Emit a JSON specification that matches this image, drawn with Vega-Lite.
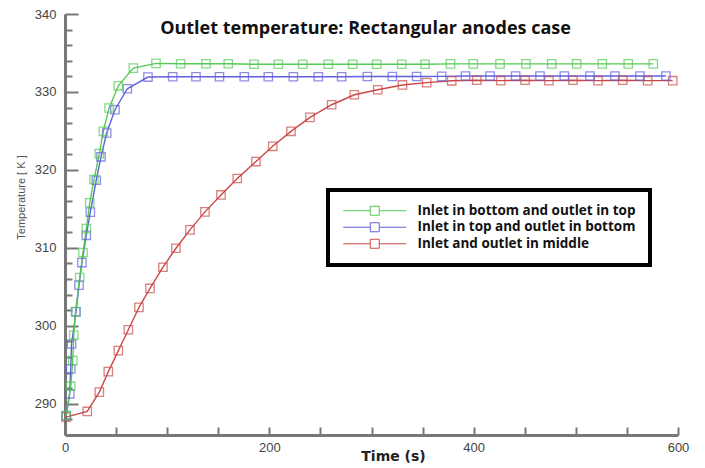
{
  "$schema": "https://vega.github.io/schema/vega-lite/v6.json",
  "autosize": "none",
  "width": 613,
  "height": 421,
  "padding": {"left": 65, "top": 14, "right": 27, "bottom": 33},
  "background": "white",
  "title": {"text": "Outlet temperature: Rectangular anodes case", "font": "Open Sans", "fontSize": 18, "fontWeight": "bold", "color": "#111", "anchor": "middle", "baseline": "alphabetic", "offset": -20, "dy": 24, "dx": -6},
  "data": {"values": [
    {"series": "Inlet and outlet in middle", "t": 1, "T": 288.3},
    {"series": "Inlet and outlet in middle", "t": 21.8, "T": 289.02},
    {"series": "Inlet and outlet in middle", "t": 33.6, "T": 291.5},
    {"series": "Inlet and outlet in middle", "t": 42.4, "T": 294.13},
    {"series": "Inlet and outlet in middle", "t": 52.2, "T": 296.82},
    {"series": "Inlet and outlet in middle", "t": 62.0, "T": 299.5},
    {"series": "Inlet and outlet in middle", "t": 72.4, "T": 302.37},
    {"series": "Inlet and outlet in middle", "t": 83.2, "T": 304.8},
    {"series": "Inlet and outlet in middle", "t": 95.9, "T": 307.52},
    {"series": "Inlet and outlet in middle", "t": 108.6, "T": 309.95},
    {"series": "Inlet and outlet in middle", "t": 122.3, "T": 312.31},
    {"series": "Inlet and outlet in middle", "t": 137.0, "T": 314.62},
    {"series": "Inlet and outlet in middle", "t": 152.7, "T": 316.79},
    {"series": "Inlet and outlet in middle", "t": 168.6, "T": 318.9},
    {"series": "Inlet and outlet in middle", "t": 186.9, "T": 321.07},
    {"series": "Inlet and outlet in middle", "t": 203.3, "T": 323.03},
    {"series": "Inlet and outlet in middle", "t": 221.2, "T": 324.95},
    {"series": "Inlet and outlet in middle", "t": 239.8, "T": 326.74},
    {"series": "Inlet and outlet in middle", "t": 261.0, "T": 328.36},
    {"series": "Inlet and outlet in middle", "t": 283.2, "T": 329.64},
    {"series": "Inlet and outlet in middle", "t": 306.1, "T": 330.28},
    {"series": "Inlet and outlet in middle", "t": 330.3, "T": 330.9},
    {"series": "Inlet and outlet in middle", "t": 354.0, "T": 331.2},
    {"series": "Inlet and outlet in middle", "t": 378.5, "T": 331.43},
    {"series": "Inlet and outlet in middle", "t": 403.0, "T": 331.5},
    {"series": "Inlet and outlet in middle", "t": 426.5, "T": 331.45},
    {"series": "Inlet and outlet in middle", "t": 450.3, "T": 331.5},
    {"series": "Inlet and outlet in middle", "t": 473.7, "T": 331.45},
    {"series": "Inlet and outlet in middle", "t": 497.2, "T": 331.5},
    {"series": "Inlet and outlet in middle", "t": 521.7, "T": 331.45},
    {"series": "Inlet and outlet in middle", "t": 545.9, "T": 331.5},
    {"series": "Inlet and outlet in middle", "t": 570.3, "T": 331.45},
    {"series": "Inlet and outlet in middle", "t": 594.8, "T": 331.45},
    {"series": "Inlet in top and outlet in bottom", "t": 1.3, "T": 288.5},
    {"series": "Inlet in top and outlet in bottom", "t": 4.6, "T": 291.28},
    {"series": "Inlet in top and outlet in bottom", "t": 5.6, "T": 294.48},
    {"series": "Inlet in top and outlet in bottom", "t": 6.4, "T": 297.67},
    {"series": "Inlet in top and outlet in bottom", "t": 10.8, "T": 301.8},
    {"series": "Inlet in top and outlet in bottom", "t": 13.7, "T": 305.22},
    {"series": "Inlet in top and outlet in bottom", "t": 16.6, "T": 308.12},
    {"series": "Inlet in top and outlet in bottom", "t": 20.8, "T": 311.61},
    {"series": "Inlet in top and outlet in bottom", "t": 24.8, "T": 314.59},
    {"series": "Inlet in top and outlet in bottom", "t": 30.6, "T": 318.68},
    {"series": "Inlet in top and outlet in bottom", "t": 35.2, "T": 321.68},
    {"series": "Inlet in top and outlet in bottom", "t": 40.8, "T": 324.74},
    {"series": "Inlet in top and outlet in bottom", "t": 48.9, "T": 327.72},
    {"series": "Inlet in top and outlet in bottom", "t": 61.0, "T": 330.41},
    {"series": "Inlet in top and outlet in bottom", "t": 81.2, "T": 331.91},
    {"series": "Inlet in top and outlet in bottom", "t": 105.4, "T": 331.95},
    {"series": "Inlet in top and outlet in bottom", "t": 128.2, "T": 331.95},
    {"series": "Inlet in top and outlet in bottom", "t": 151.2, "T": 331.95},
    {"series": "Inlet in top and outlet in bottom", "t": 175.5, "T": 331.95},
    {"series": "Inlet in top and outlet in bottom", "t": 199.0, "T": 331.95},
    {"series": "Inlet in top and outlet in bottom", "t": 223.5, "T": 331.95},
    {"series": "Inlet in top and outlet in bottom", "t": 247.9, "T": 331.95},
    {"series": "Inlet in top and outlet in bottom", "t": 270.8, "T": 331.95},
    {"series": "Inlet in top and outlet in bottom", "t": 295.9, "T": 331.98},
    {"series": "Inlet in top and outlet in bottom", "t": 320.4, "T": 331.98},
    {"series": "Inlet in top and outlet in bottom", "t": 344.2, "T": 331.98},
    {"series": "Inlet in top and outlet in bottom", "t": 368.7, "T": 332.0},
    {"series": "Inlet in top and outlet in bottom", "t": 392.0, "T": 332.05},
    {"series": "Inlet in top and outlet in bottom", "t": 416.0, "T": 332.05},
    {"series": "Inlet in top and outlet in bottom", "t": 441.1, "T": 332.05},
    {"series": "Inlet in top and outlet in bottom", "t": 464.9, "T": 332.05},
    {"series": "Inlet in top and outlet in bottom", "t": 488.7, "T": 332.05},
    {"series": "Inlet in top and outlet in bottom", "t": 513.9, "T": 332.05},
    {"series": "Inlet in top and outlet in bottom", "t": 538.3, "T": 332.05},
    {"series": "Inlet in top and outlet in bottom", "t": 562.8, "T": 332.05},
    {"series": "Inlet in top and outlet in bottom", "t": 588.2, "T": 332.05},
    {"series": "Inlet in bottom and outlet in top", "t": 1, "T": 288.47},
    {"series": "Inlet in bottom and outlet in top", "t": 5.6, "T": 292.26},
    {"series": "Inlet in bottom and outlet in top", "t": 7.6, "T": 295.54},
    {"series": "Inlet in bottom and outlet in top", "t": 8.6, "T": 298.82},
    {"series": "Inlet in bottom and outlet in top", "t": 10.3, "T": 301.83},
    {"series": "Inlet in bottom and outlet in top", "t": 14.4, "T": 306.2},
    {"series": "Inlet in bottom and outlet in top", "t": 17.6, "T": 309.4},
    {"series": "Inlet in bottom and outlet in top", "t": 20.9, "T": 312.47},
    {"series": "Inlet in bottom and outlet in top", "t": 24.2, "T": 315.79},
    {"series": "Inlet in bottom and outlet in top", "t": 28.4, "T": 318.77},
    {"series": "Inlet in bottom and outlet in top", "t": 33.6, "T": 322.1},
    {"series": "Inlet in bottom and outlet in top", "t": 37.5, "T": 324.95},
    {"series": "Inlet in bottom and outlet in top", "t": 43.1, "T": 327.94},
    {"series": "Inlet in bottom and outlet in top", "t": 52.2, "T": 330.79},
    {"series": "Inlet in bottom and outlet in top", "t": 66.9, "T": 333.06},
    {"series": "Inlet in bottom and outlet in top", "t": 89.1, "T": 333.67},
    {"series": "Inlet in bottom and outlet in top", "t": 113.2, "T": 333.62},
    {"series": "Inlet in bottom and outlet in top", "t": 138.0, "T": 333.62},
    {"series": "Inlet in bottom and outlet in top", "t": 159.8, "T": 333.62},
    {"series": "Inlet in bottom and outlet in top", "t": 185.0, "T": 333.55},
    {"series": "Inlet in bottom and outlet in top", "t": 208.8, "T": 333.55},
    {"series": "Inlet in bottom and outlet in top", "t": 232.7, "T": 333.55},
    {"series": "Inlet in bottom and outlet in top", "t": 257.7, "T": 333.55},
    {"series": "Inlet in bottom and outlet in top", "t": 281.6, "T": 333.55},
    {"series": "Inlet in bottom and outlet in top", "t": 305.1, "T": 333.55},
    {"series": "Inlet in bottom and outlet in top", "t": 329.6, "T": 333.55},
    {"series": "Inlet in bottom and outlet in top", "t": 352.4, "T": 333.55},
    {"series": "Inlet in bottom and outlet in top", "t": 377.3, "T": 333.6},
    {"series": "Inlet in bottom and outlet in top", "t": 399.6, "T": 333.6},
    {"series": "Inlet in bottom and outlet in top", "t": 425.8, "T": 333.6},
    {"series": "Inlet in bottom and outlet in top", "t": 451.2, "T": 333.6},
    {"series": "Inlet in bottom and outlet in top", "t": 476.4, "T": 333.6},
    {"series": "Inlet in bottom and outlet in top", "t": 500.8, "T": 333.6},
    {"series": "Inlet in bottom and outlet in top", "t": 525.9, "T": 333.6},
    {"series": "Inlet in bottom and outlet in top", "t": 551.3, "T": 333.6},
    {"series": "Inlet in bottom and outlet in top", "t": 575.8, "T": 333.6}
  ]},
  "encoding": {
    "x": {"field": "t", "type": "quantitative", "scale": {"domain": [0, 600], "nice": false},
      "axis": {"values": [0, 50, 100, 150, 200, 250, 300, 350, 400, 450, 500, 550, 600],
        "labelExpr": "datum.value % 200 === 0 ? datum.label : ''",
        "tickSize": -8, "tickColor": "#777", "tickWidth": 2, "domainColor": "#777", "domainWidth": 3,
        "grid": false, "labelFont": "Liberation Sans", "labelFontSize": 13, "labelColor": "#444",
        "labelPadding": 14, "labelFlush": false, "labelOverlap": false,
        "title": "Time (s)", "titleFont": "DejaVu Sans", "titleFontWeight": "bold", "titleFontSize": 14, "titleColor": "#222",
        "titleX": 328, "titleY": 25, "titleBaseline": "alphabetic", "titleAlign": "center"}},
    "y": {"field": "T", "type": "quantitative", "scale": {"domain": [286, 340], "nice": false, "zero": false},
      "axis": {"values": [288, 290, 292, 294, 296, 298, 300, 302, 304, 306, 308, 310, 312, 314, 316, 318, 320, 322, 324, 326, 328, 330, 332, 334, 336, 338, 340],
        "labelExpr": "datum.value % 10 === 0 ? datum.label : ''",
        "tickSize": {"condition": {"test": "datum.value % 10 === 0", "value": -13}, "value": -7},
        "tickColor": "#777", "tickWidth": 2, "domainColor": "#777", "domainWidth": 3,
        "grid": false, "labelFont": "Liberation Sans", "labelFontSize": 13, "labelColor": "#444",
        "labelPadding": 22, "labelFlush": false, "labelOverlap": false,
        "title": "Temperature [ K ]", "titleFont": "Liberation Sans", "titleFontSize": 11, "titleFontWeight": "normal", "titleColor": "#555",
        "titleX": -44, "titleY": 183, "titleAlign": "center", "titleBaseline": "middle", "titleAngle": -90}},
    "color": {"field": "series", "type": "nominal",
      "scale": {"domain": ["Inlet in bottom and outlet in top", "Inlet in top and outlet in bottom", "Inlet and outlet in middle"],
                "range": ["#55c955", "#6060dc", "#cc4848"]},
      "legend": {"orient": "none", "legendX": 263, "legendY": 176, "title": null,
        "strokeColor": "#000", "fillColor": "#fff", "padding": 14,
        "symbolType": "M-7,0H-1M1,0H7M-1,-1H1V1H-1Z", "symbolSize": 81, "symbolFillColor": "#fff", "symbolStrokeWidth": 1,
        "symbolOffset": 26, "labelOffset": 36, "rowPadding": 1.5,
        "labelFont": "Open Sans", "labelFontWeight": "bold", "labelFontSize": 13.5, "labelColor": "#111", "labelLimit": 400,
        "encoding": {"legend": {"strokeWidth": {"value": 4}}}}}
  },
  "layer": [
    {"mark": {"type": "line", "strokeWidth": 1.4}},
    {"mark": {"type": "point", "shape": "square", "filled": false, "size": 70, "strokeWidth": 1.3}}
  ],
  "config": {"view": {"stroke": null}}
}
